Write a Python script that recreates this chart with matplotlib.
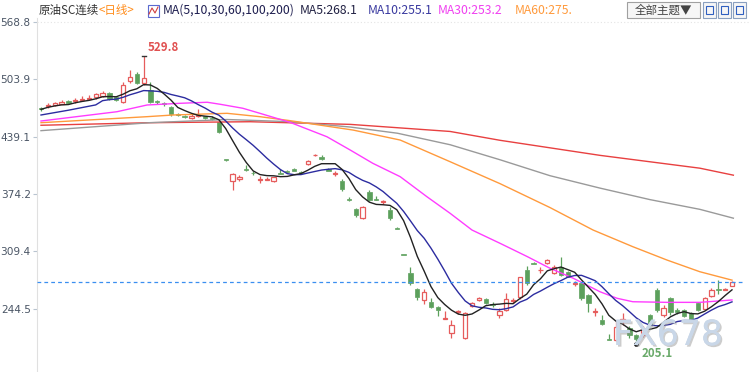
import matplotlib
matplotlib.use('Agg')
import matplotlib.pyplot as plt
import numpy as np
import pandas as pd
from matplotlib.patches import Rectangle
import matplotlib.patheffects as pe

# ---------------- data ----------------
opens = [471, 473.5, 475, 476.5, 479, 479, 481, 482, 483.6, 485,
         488.5, 483.5, 478.6, 501.5, 509.5, 499.5, 492, 479.5, 477, 473,
         465, 462.5, 460.5, 463, 462, 460, 456, 413.5, 389, 391,
         403, 398.5, 390.5, 390, 389, 398.5, 400.5, 402.5, 399.5, 408,
         418, 416.5, 402.5, 396.5, 388.5, 369, 357, 347, 377, 368,
         365, 356, 336, 306.5, 284.7, 266.5, 254.6, 252.5, 247, 233.5,
         217.6, 241, 211.3, 248, 254, 255.5, 249.5, 237.6, 243.2, 253.5,
         257.6, 288.5, 296.5, 288, 296, 285, 291.5, 286.7, 273, 273.4,
         260, 241, 232, 210, 209.4, 232.5, 222.6, 215, 215, 237.6,
         265.9, 237.6, 256.5, 243.5, 243.2, 240.2, 250.8, 244, 259, 266.5,
         266.2, 270.4]
highs = [473, 477, 478, 480, 480, 483, 485, 486, 489, 491,
         490, 484.5, 501.2, 514.4, 512.5, 529.8, 501, 481, 478, 474,
         466, 463.5, 466, 470, 463, 462, 457, 414, 398, 395.5,
         407, 400, 395, 393.5, 394, 403, 401.5, 403.5, 400.5, 413,
         420, 418, 404, 400, 391, 371, 359, 361, 379, 372,
         368, 360, 336.5, 307, 292, 268, 267, 257, 248, 242,
         232, 243, 241, 252, 258, 257, 252, 245, 262.5, 257,
         281, 293, 297, 292, 300.5, 294, 303.5, 287.5, 276, 274,
         261, 246, 237.5, 216, 232, 240, 225, 216, 225, 239,
         267.7, 249, 258.2, 245, 244, 241, 252, 257.5, 267.7, 277,
         268, 276]
lows = [468, 472, 474, 475.5, 476, 477, 479, 481, 482, 484,
        480, 479.5, 477, 500, 498.5, 498, 477, 476, 474, 463,
        462.5, 460, 459, 461, 459.5, 457.5, 443, 412, 379, 389,
        400, 396, 387, 390, 388, 396.5, 398, 400, 396.5, 407,
        417.5, 413, 400, 394.5, 378, 366, 348, 346, 366, 367,
        363, 345, 334.5, 305, 272, 254, 250, 246, 236, 233.5,
        212, 238.5, 210.5, 246.5, 253, 250, 247, 234, 242, 251,
        256, 272, 295, 285, 295, 284, 282, 280, 270, 255,
        241.3, 237, 226, 209, 208.5, 226, 212, 205.1, 213, 225,
        241.3, 235.7, 237.6, 239, 235.5, 232, 242, 243, 258, 261,
        265.5, 270]
closes = [470, 474.5, 477, 478.5, 477, 480, 482, 483, 487.5, 488.5,
          481.5, 480.5, 497.5, 507, 499.5, 505, 478.5, 478, 475.5, 465,
          463.5, 461, 462.5, 464, 460.5, 459.5, 444.7, 412.5, 396.5, 394,
          402, 397.5, 391.5, 390.5, 393, 397, 399, 400.5, 397.5, 412,
          418.8, 414, 400.5, 397.5, 380, 368, 350.5, 359.3, 367.6, 367.5,
          366, 347, 335, 305.5, 273.4, 258.5, 264, 247, 243.5, 234.5,
          226.3, 242, 240, 251, 256.5, 251, 248.5, 242.5, 255.3, 254.5,
          280.2, 273.4, 295.5, 289, 299.5, 292, 283, 281, 274, 256.5,
          251, 242, 227.4, 209.4, 224.5, 233.5, 215, 211, 221.5, 226.4,
          243.3, 245.1, 241.3, 240.5, 236.5, 232.8, 243.2, 256.5, 265.8, 265.5,
          267.2, 275.2]

# MA10 values read at the first candles (before 10 closes are available)
ma10_head_idx = [0, 4, 8]
ma10_head_val = [463.6, 469.0, 475.0]

# long moving averages (candle index, value)
ma30_idx = [0, 11.1, 15.5, 20.3, 24.3, 26.2, 29.5, 32, 36.4, 41.8, 45.2, 48.5,
            52.5, 56.4, 59.8, 63, 67.1, 71.1, 74.4, 77.8, 81.7, 84.2, 86.5,
            91.5, 96.3, 101]
ma30_val = [456.8, 467.3, 474.9, 476.8, 478, 475.7, 471.2, 465.5, 455.3, 439,
            424, 409, 393.9, 371.3, 352.5, 333.6, 318.6, 303.5, 290.4, 279.1,
            263.9, 256.5, 252.6, 251.9, 251.9, 254.6]
ma60_idx = [0, 15.5, 19.3, 27.2, 32, 36.4, 45.6, 52.5, 59.8, 67.1, 74.4, 80.7,
            86.5, 91.5, 96.3, 101]
ma60_val = [454.9, 461.7, 463.6, 465.5, 461.7, 457.2, 446.6, 435.3, 410.8, 386,
            359, 333.6, 314.8, 299.7, 286.5, 277]
ma100_idx = [0, 15.9, 27.2, 36.6, 45.2, 52.1, 59.8, 67.1, 74.4, 81.7, 89.0,
             96.3, 101.2]
ma100_val = [445.9, 454.9, 458.5, 456, 450, 443, 430, 413, 395, 381, 368, 357, 347]
ma200_idx = [0, 15.9, 30.6, 45.2, 59.8, 67.1, 81.7, 96.3, 101.2]
ma200_val = [452, 454.9, 456, 453, 445, 435, 418, 403.5, 395.6]

last_price = 275.2
ytick_vals = [568.8, 503.9, 439.1, 374.2, 309.4, 244.5]
high_label = "529.8"
low_label = "205.1"

# ---------------- styling ----------------
RED = '#e65c5c'
GREEN = '#5ca05c'
C_MA5 = '#222222'
C_MA10 = '#2c2ca0'
C_MA30 = '#ff3cff'
C_MA60 = '#ff9a3c'
C_MA100 = '#9a9a9a'
C_MA200 = '#e84040'

W, H = 750, 372
fig = plt.figure(figsize=(W / 100, H / 100), dpi=100)
fig.patch.set_facecolor('white')

ax_left, ax_right, ax_top = 37, 745, 18
ax = fig.add_axes([ax_left / W, 0, (ax_right - ax_left) / W, (H - ax_top) / H])
ax.set_facecolor('white')

o = np.array(opens); c = np.array(closes); h = np.array(highs); l = np.array(lows)
idx = np.arange(len(c))
up = c >= o
blo = np.minimum(o, c); bhi = np.maximum(o, c)
bh = np.maximum(bhi - blo, 0.9)
cols = np.where(up, RED, GREEN)

ax.vlines(idx, l, blo, colors=cols, lw=0.9, zorder=2)
ax.vlines(idx, bhi, h, colors=cols, lw=0.9, zorder=2)
ax.bar(idx[~up], bh[~up], bottom=blo[~up], width=0.64, color=GREEN,
       edgecolor=GREEN, linewidth=0.5, zorder=3)
ax.bar(idx[up], bh[up], bottom=blo[up], width=0.62, facecolor='white',
       edgecolor=RED, linewidth=0.9, zorder=3)

s = pd.Series(c)
ma5 = s.rolling(5, min_periods=1).mean()
ma10_full = s.rolling(10).mean()
ma10_x = list(ma10_head_idx) + list(idx[9:])
ma10_y = list(ma10_head_val) + list(ma10_full.values[9:])

ax.plot(ma200_idx, ma200_val, color=C_MA200, lw=1.0, zorder=4)
ax.plot(ma100_idx, ma100_val, color=C_MA100, lw=1.0, zorder=4)
ax.plot(ma60_idx, ma60_val, color=C_MA60, lw=1.0, zorder=4)
ax.plot(ma30_idx, ma30_val, color=C_MA30, lw=1.0, zorder=4)
ax.plot(ma10_x, ma10_y, color=C_MA10, lw=1.0, zorder=5)
ax.plot(idx, ma5, color=C_MA5, lw=1.0, zorder=6)

ax.axhline(last_price, color='#3a8ff0', lw=0.9, ls=(0, (3, 2.5)), zorder=7)

# high / low annotations
fam = ['Noto Sans CJK SC', 'DejaVu Sans']
ih = int(np.argmax(h)); il = int(np.argmin(l))
ax.plot([ih - 0.3, ih + 0.3], [h[ih], h[ih]], color='#333333', lw=1.0, zorder=8)
ax.annotate(high_label, (ih, h[ih]), xytext=(3, 2), textcoords='offset points',
            color='#e05050', fontsize=8.3, fontweight='bold', family=fam,
            ha='left', va='bottom')
ax.plot([il], [l[il]], marker='o', ms=2.5, color='#222222', zorder=8)
ax.annotate(low_label, (il, l[il]), xytext=(4, -2), textcoords='offset points',
            color='#6aaa6a', fontsize=8.3, fontweight='bold', family=fam,
            ha='left', va='top', zorder=12)

ax.set_xlim(-0.585, 102.9)
ax.set_ylim(173.2, 573.2)
for sp in ['top', 'right', 'bottom']:
    ax.spines[sp].set_visible(False)
ax.spines['left'].set_color('#e0e0e0')
ax.spines['left'].set_linewidth(0.8)
ax.set_xticks([])
ax.set_yticks(ytick_vals)
ax.set_yticklabels([f'{v:.1f}' for v in ytick_vals])
ax.tick_params(axis='y', length=3, width=0.8, color='#b8c4d0', pad=1.5,
               labelsize=7.6, labelcolor='#4a5565')

# watermark
fig.text(668 / W, 1 - 335 / H, 'FX678', fontsize=25, color='#c9d7e8',
         ha='center', va='center', zorder=10,
         path_effects=[pe.withSimplePatchShadow(offset=(1.2, -1.2), shadow_rgbFace='#9a9a9a', alpha=0.5),
                       pe.Normal()])

# top dotted border
fig.add_artist(plt.Line2D([ax_left / W, 1], [1 - 22 / H, 1 - 22 / H], color='#e4e4e4',
                          lw=0.8, ls=(0, (1, 2))))

# header
ty = 1 - 10.5 / H
def htxt(x, s, col, size=8.8):
    fig.text(x / W, ty, s, color=col, fontsize=size, family=fam, ha='left', va='center')

htxt(39, '原油SC连续', '#333333', 8.3)
htxt(99, '<日线>', '#ff8c1a', 8.3)
# small MA icon
fig.add_artist(Rectangle((148 / W, 1 - 17 / H), 11 / W, 12 / H, fill=False,
                         edgecolor='#5a6ad0', lw=0.8))
fig.add_artist(plt.Line2D(np.array([149, 152, 155, 158]) / W,
                          1 - np.array([14, 8, 13, 7]) / H, color='#d04040', lw=0.8))
htxt(163, 'MA(5,10,30,60,100,200)', '#1e1e50')
htxt(300, 'MA5:268.1', '#222244')
htxt(368, 'MA10:255.1', '#3a3aa0')
htxt(438, 'MA30:253.2', '#f040f0')
htxt(515, 'MA60:275.', '#ff9a3c')

# buttons at top right
fig.add_artist(Rectangle((627 / W, 1 - 18 / H), 73 / W, 16 / H, facecolor='#f6f6f6',
                         edgecolor='#a0a0a0', lw=0.8))
fig.text(663 / W, 1 - 10 / H, '全部主题▼', color='#444444', fontsize=8.3, family=fam,
         ha='center', va='center')
for bx in [703, 718, 733]:
    fig.add_artist(Rectangle((bx / W, 1 - 18 / H), 13 / W, 16 / H, facecolor='#f6f6f6',
                             edgecolor='#8aa0c0', lw=0.8))
    fig.add_artist(Rectangle(((bx + 3) / W, 1 - 14 / H), 7 / W, 8 / H, fill=False,
                             edgecolor='#3060c0', lw=0.8))

fig.savefig('out.png', dpi=100, facecolor='white')
